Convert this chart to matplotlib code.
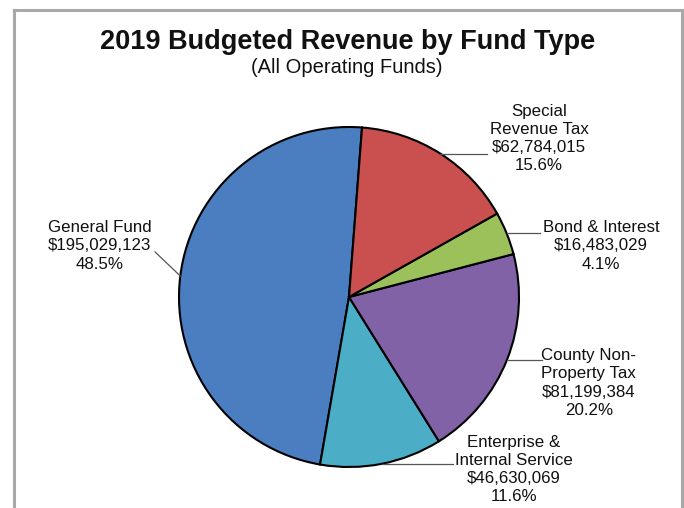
import numpy as np
import matplotlib
matplotlib.use("Agg")
import matplotlib.pyplot as plt
from matplotlib.lines import Line2D

plt.rcParams['font.family'] = ['Liberation Sans', 'DejaVu Sans']

# Fund types, in drawing order (counter-clockwise from the top)
funds = ['General Fund', 'Enterprise &\nInternal Service', 'County Non-\nProperty Tax',
         'Bond & Interest', 'Special\nRevenue Tax']
revenue = [195029123, 46630069, 81199384, 16483029, 62784015]
colors = ['#4a7ec0', '#4badc6', '#8162a6', '#9cc05a', '#c9504e']

# label centres and where the leader line meets the text (axes data units)
label_pos = [(-1.465, 0.30), (0.97, -1.015), (1.41, -0.506), (1.482, 0.30), (1.118, 0.932)]
leader_end = [(-1.141, 0.265), (0.612, None), (1.135, None), (1.124, None), (0.812, None)]

W, H = 684, 508
fig = plt.figure(figsize=(W / 100, H / 100), dpi=100)

# grey frame round the chart (bottom edge falls off the page)
frame = [((14, 14), (-10, H - 10)), ((14, 682), (H - 10, H - 10)), ((682, 682), (H - 10, -10))]
for xs, ys in frame:
    fig.add_artist(Line2D([x / W for x in xs], [y / H for y in ys], color='#a8a8a8', lw=2.2))

fig.text(348 / W, 1 - 49 / H, '2019 Budgeted Revenue by Fund Type', ha='center', va='baseline',
         fontsize=19.5, fontweight='bold', color='#111111')
fig.text(347 / W, 1 - 73 / H, '(All Operating Funds)', ha='center', va='baseline',
         fontsize=14.5, color='#111111')

cx, cy, r = 349, 297, 170
ax = fig.add_axes([(cx - r) / W, (H - cy - r) / H, 2 * r / W, 2 * r / H])
wedges, _ = ax.pie(revenue, colors=colors, startangle=85.6, counterclock=True,
                   wedgeprops=dict(edgecolor='black', linewidth=1.5))
ax.set_xlim(-1, 1)
ax.set_ylim(-1, 1)
ax.set_aspect('auto')
ax.axis('off')

total = sum(revenue)
for w, name, val, (tx, ty), (ex, ey) in zip(wedges, funds, revenue, label_pos, leader_end):
    mid = np.deg2rad((w.theta1 + w.theta2) / 2)
    sx, sy = np.cos(mid), np.sin(mid)
    if ey is None:
        ey = sy
    ax.plot([sx, ex], [sy, ey], color='#555555', lw=0.9, clip_on=False)
    txt = f'{name}\n${val:,}\n{val / total * 100:.1f}%'
    ax.text(tx, ty, txt, ha='center', va='center', multialignment='center',
            fontsize=12.2, linespacing=1.26, color='#111111', clip_on=False)

fig.savefig('out.png', dpi=100, facecolor='white')
